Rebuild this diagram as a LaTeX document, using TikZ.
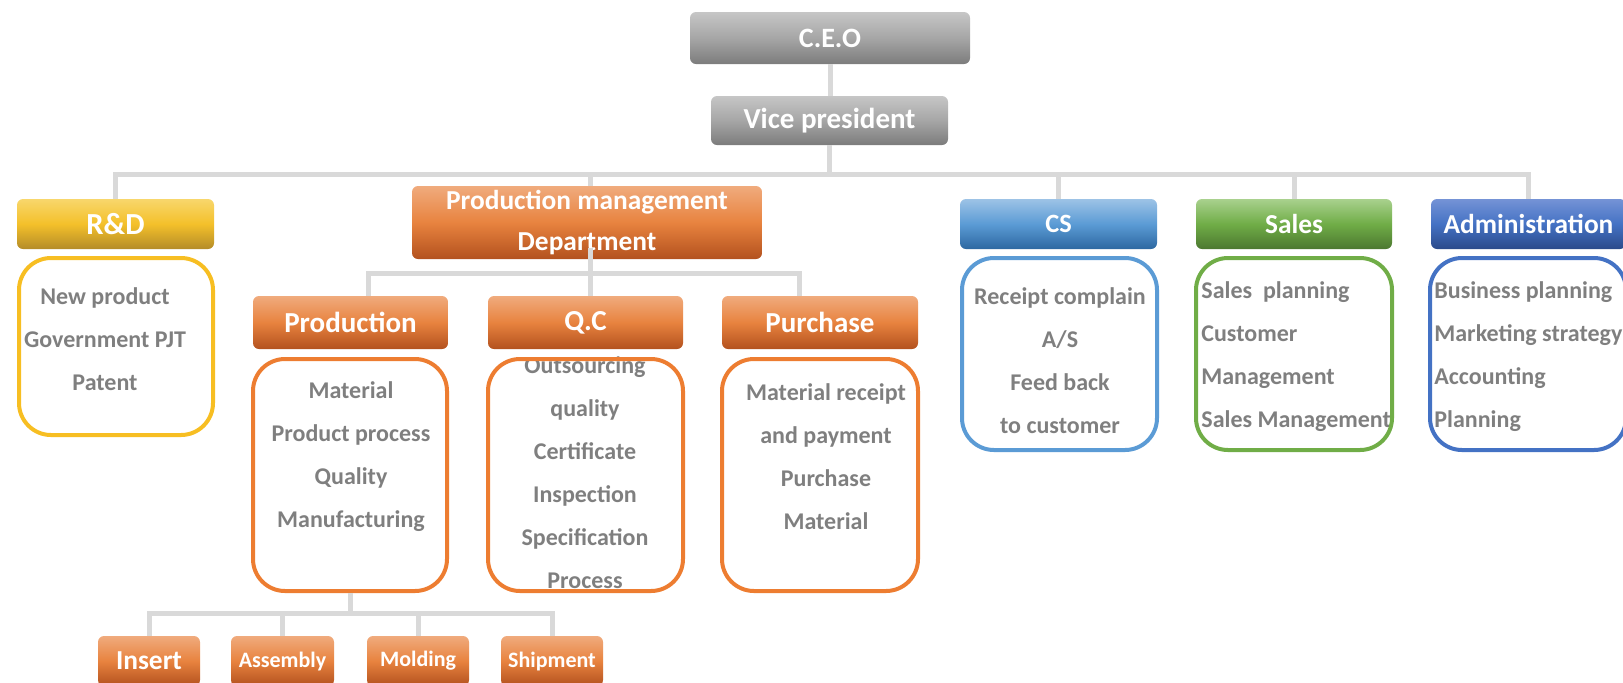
\documentclass[tikz,border=0pt]{standalone}
\usepackage{fontspec}
\setmainfont{Carlito}
\definecolor{wirec}{HTML}{D9D9D9}
\definecolor{txtc}{HTML}{7F7F7F}
\definecolor{grayT}{HTML}{C6C6C6}\definecolor{grayM}{HTML}{A6A6A6}\definecolor{grayB}{HTML}{7C7C7C}
\definecolor{goldT}{HTML}{F8D76C}\definecolor{goldM}{HTML}{F4C02A}\definecolor{goldB}{HTML}{B48C28}
\definecolor{orT}{HTML}{F0AB7D}\definecolor{orM}{HTML}{E8833F}\definecolor{orB}{HTML}{B3511E}
\definecolor{blT}{HTML}{9DC3E6}\definecolor{blM}{HTML}{5B9BD5}\definecolor{blB}{HTML}{2D68A1}
\definecolor{grT}{HTML}{A9D18E}\definecolor{grM}{HTML}{70AD47}\definecolor{grB}{HTML}{4C7830}
\definecolor{nvT}{HTML}{7593D6}\definecolor{nvM}{HTML}{4472C4}\definecolor{nvB}{HTML}{2B4A8A}
\definecolor{goldL}{HTML}{F7BE22}\definecolor{orL}{HTML}{ED7D31}
\begin{document}
\begin{tikzpicture}[x=0.5pt,y=-0.5pt,
  hd/.style={rounded corners=3pt,inner sep=0pt,text=white,minimum height=25pt,
    font=\bfseries\fontsize{14.5}{16}\selectfont},
  boss/.style={top color=grayT,bottom color=grayB,middle color=grayM},
  gold/.style={top color=goldT,bottom color=goldB,middle color=goldM},
  orng/.style={top color=orT,bottom color=orB,middle color=orM},
  blu/.style={top color=blT,bottom color=blB,middle color=blM},
  grn/.style={top color=grT,bottom color=grB,middle color=grM},
  nvy/.style={top color=nvT,bottom color=nvB,middle color=nvM},
  body/.style={draw,line width=2pt,rounded corners=16pt,inner sep=0pt},
  lst/.style={inner sep=0pt,text=txtc,align=center,font=\bfseries\fontsize{12}{21.5}\selectfont},
  wire/.style={wirec,line width=2.5pt}]
\pgfmathsetmacro{\hy}{224}
\pgfmathsetmacro{\by}{354}
\pgfmathsetmacro{\py}{475}
\useasboundingbox (0,0) rectangle (1623,682);
\clip (0,0) rectangle (1623,682);
% top of the chart
\node[hd,boss,minimum width=140pt,minimum height=26pt,font=\bfseries\fontsize{14}{16}\selectfont] (ceo) at (830,38) {C.E.O};
\node[hd,boss,minimum width=118.5pt,minimum height=24.5pt] (vp) at (829.5,120.5) {Vice president};
% departments
\node[hd,gold,minimum width=98.5pt,font=\bfseries\fontsize{15.3}{17}\selectfont] (rd) at (115.5,\hy) {R\&D};
\node[hd,orng,minimum width=175pt,minimum height=36.5pt,align=center,font=\bfseries\fontsize{13.7}{20.5}\selectfont] (pmd) at (587,222.5) {Production management\\Department};
\node[hd,blu,minimum width=98.5pt,font=\bfseries\fontsize{13.2}{15}\selectfont] (cs) at (1058.5,\hy) {CS};
\node[hd,grn,minimum width=98pt,font=\bfseries\fontsize{13.7}{15}\selectfont] (sal) at (1294,\hy) {Sales};
\node[hd,nvy,minimum width=97.5pt,font=\bfseries\fontsize{13.7}{15}\selectfont] (adm) at (1528.5,\hy) {Administration};
% lists
\node[lst] at (105,339.5) {New product\\Government PJT\\Patent};
\node[lst] at (1060,361) {Receipt complain\\A/S\\Feed back\\to customer};
\node[lst,anchor=west,align=left] at (1201,356.5) {Sales\ \ planning\\Customer\\Management\\Sales Management};
\node[lst,anchor=west,align=left] at (1434,356.5) {Business planning\\Marketing strategy\\Accounting\\Planning};
\node[body,goldL,minimum width=97pt,minimum height=88.5pt] (rdb) at (116,346.5) {};
\node[body,blM,minimum width=97.5pt,minimum height=96pt] (csb) at (1059.5,\by) {};
\node[body,grM,minimum width=98pt,minimum height=96pt] (salb) at (1294,\by) {};
\node[body,nvM,minimum width=98pt,minimum height=96pt] (admb) at (1528,\by) {};
% production management
\node[hd,orng,minimum width=97.5pt,minimum height=26.5pt] (prod) at (350.5,322.5) {Production};
\node[hd,orng,minimum width=97.5pt,minimum height=26.5pt] (qc) at (585.5,322.5) {Q.C};
\node[hd,orng,minimum width=98pt,minimum height=26.5pt] (pur) at (820,322.5) {Purchase};
\node[lst] at (351,456.5) {Material\\Product process\\Quality\\Manufacturing};
\node[lst] at (585,472.5) {Outsourcing\\quality\\Certificate\\Inspection\\Specification\\Process};
\node[lst] at (826,457) {Material receipt\\and payment\\Purchase\\Material};
\node[body,orL,minimum width=97pt,minimum height=116pt] (prodb) at (350,\py) {};
\node[body,orL,minimum width=97.5pt,minimum height=116pt] (qcb) at (585.5,\py) {};
\node[body,orL,minimum width=98pt,minimum height=116pt] (purb) at (820,\py) {};
% lines of production
\node[hd,orng,minimum width=51pt,font=\bfseries\fontsize{13.7}{15}\selectfont] (ins) at (149,661) {Insert};
\node[hd,orng,minimum width=51.5pt,font=\bfseries\fontsize{11}{13}\selectfont] (asm) at (282.5,661) {Assembly};
\node[hd,orng,minimum width=51pt,font=\bfseries\fontsize{11}{13}\selectfont] (mld) at (418,661) {Molding};
\node[hd,orng,minimum width=51pt,font=\bfseries\fontsize{11}{13}\selectfont] (shp) at (552,661) {Shipment};
% connectors
\coordinate (bus) at (831,174);
\coordinate (sub) at (590,273);
\coordinate (low) at (351,613);
\draw[wire] (ceo.south) -- (ceo.south |- vp.north);
\draw[wire] (vp.south) -- (vp.south |- bus);
\draw[wire] (rd.north) |- (bus) -| (adm.north);
\foreach \n in {cs,sal} \draw[wire] (\n.north) -- (\n.north |- bus);
\draw[wire] ([xshift=1.5pt]pmd.north) -- ([xshift=1.5pt]pmd.north |- bus);
\draw[wire] ([xshift=1.5pt,yshift=5.5pt]pmd.south) -- (sub);
\draw[wire] ([xshift=9pt]prod.north) |- (sub) -| ([xshift=-10.5pt]pur.north);
\draw[wire] (sub) -- (sub |- qc.north);
\draw[wire] (prodb.south) -- (prodb.south |- low);
\draw[wire] (ins.north) |- (low) -| (shp.north);
\foreach \n in {asm,mld} \draw[wire] (\n.north) -- (\n.north |- low);
\end{tikzpicture}
\end{document}
